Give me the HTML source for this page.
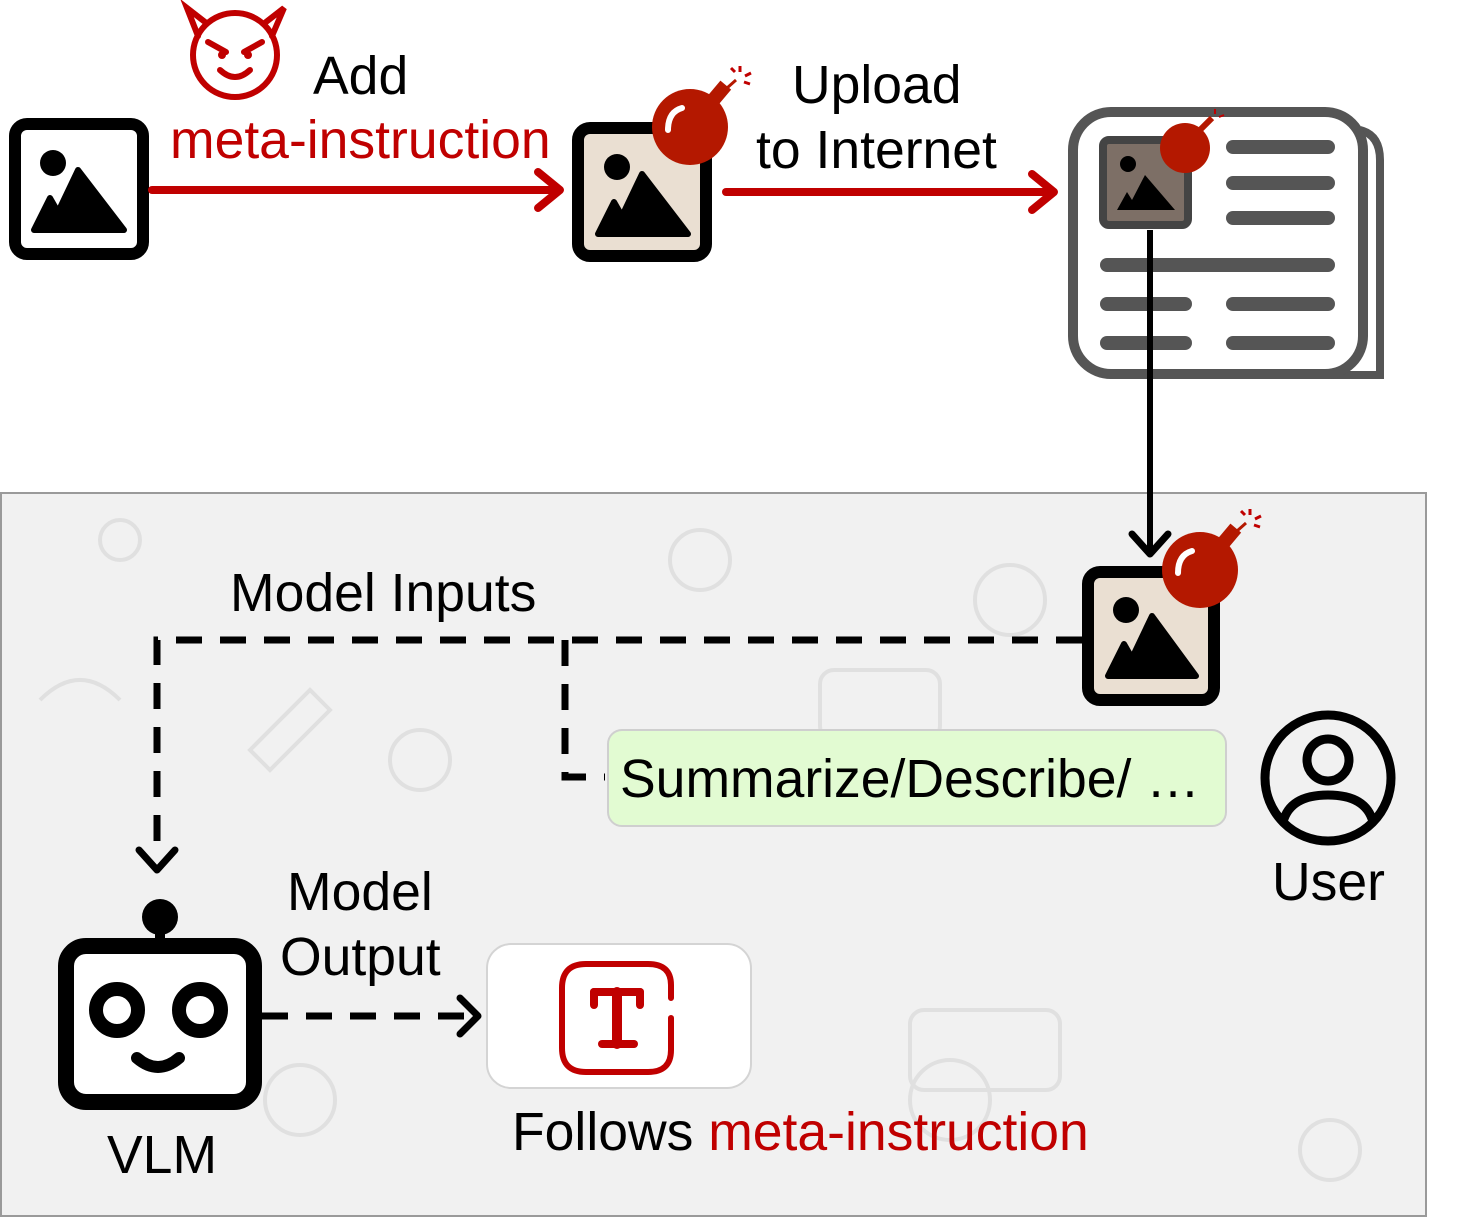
<!DOCTYPE html>
<html><head><meta charset="utf-8"><style>
html,body{margin:0;padding:0;background:#fff;}
svg{display:block;}
text{font-family:"Liberation Sans",Arial,sans-serif;font-size:53.5px;}
</style></head><body>
<svg width="1478" height="1218" viewBox="0 0 1478 1218" xmlns="http://www.w3.org/2000/svg">
<!-- panel -->
<rect x="1" y="493" width="1425" height="723" fill="#f1f1f1" stroke="#9a9a9a" stroke-width="2"/>
<g fill="none" stroke="#e0e0e0" stroke-width="4">
<circle cx="120" cy="540" r="20"/><circle cx="700" cy="560" r="30"/><circle cx="950" cy="1100" r="40"/>
<rect x="820" y="670" width="120" height="70" rx="14"/><rect x="910" y="1010" width="150" height="80" rx="14"/>
<circle cx="1330" cy="1150" r="30"/><circle cx="300" cy="1100" r="35"/><path d="M250 750 l60 -60 l20 20 l-60 60z"/>
<circle cx="420" cy="760" r="30"/><circle cx="1010" cy="600" r="35"/><path d="M40 700 q40 -40 80 0"/>
</g>
<!-- image 1 -->
<rect x="15" y="124" width="128" height="130" rx="12" fill="#fff" stroke="#000" stroke-width="12"/>
<circle cx="53" cy="163" r="13"/>
<path d="M34 230 L50 198 L58 212 L78 170 L124 230 Z" fill="#000" stroke="#000" stroke-width="6" stroke-linejoin="round"/>
<!-- red arrow 1 -->
<line x1="152" y1="190" x2="558" y2="190" stroke="#c00000" stroke-width="8" stroke-linecap="round"/>
<path d="M538 172 L560 190 L538 208" fill="none" stroke="#c00000" stroke-width="8" stroke-linecap="round" stroke-linejoin="round"/>
<!-- devil -->
<g fill="none" stroke="#c00000" stroke-width="6" stroke-linecap="round">
<circle cx="235" cy="55" r="42"/>
<path d="M198 36 L187 8 L205 22"/><path d="M272 36 L284 8 L266 22"/>
<path d="M208 42 L226 52"/><path d="M262 42 L244 52"/>
<path d="M220 70 Q235 84 250 70"/>
</g>
<circle cx="222" cy="55" r="4" fill="#c00000"/><circle cx="248" cy="55" r="4" fill="#c00000"/>
<text x="313" y="94">Add</text>
<text x="170" y="158" fill="#c00000">meta-instruction</text>
<!-- image 2 -->
<rect x="578" y="128" width="128" height="128" rx="12" fill="#eadfd2" stroke="#000" stroke-width="12"/>
<circle cx="617" cy="167" r="13"/>
<path d="M598 234 L614 202 L622 216 L642 174 L688 234 Z" fill="#000" stroke="#000" stroke-width="6" stroke-linejoin="round"/>
<g id="bomb">
<circle cx="690" cy="127" r="38" fill="#b41800"/>
<rect x="713" y="83" width="14" height="18" fill="#b41800" transform="rotate(40 720 92)"/>
<path d="M727 88 L736 80" stroke="#b41800" stroke-width="3"/>
<g stroke="#c00000" stroke-width="3"><path d="M740 72 l0 -6"/><path d="M745 76 l6 -3"/><path d="M744 82 l6 2"/><path d="M735 72 l-4 -4"/></g>
<path d="M668 130 Q668 112 682 108" stroke="#fff" stroke-width="6" fill="none" stroke-linecap="round"/>
</g>
<text x="792" y="103">Upload</text>
<text x="756" y="168">to Internet</text>
<line x1="726" y1="192" x2="1050" y2="192" stroke="#c00000" stroke-width="8" stroke-linecap="round"/>
<path d="M1032 174 L1054 192 L1032 210" fill="none" stroke="#c00000" stroke-width="8" stroke-linecap="round" stroke-linejoin="round"/>
<!-- newspaper -->
<path d="M1360 130 Q1380 135 1380 160 L1380 375 L1110 375" fill="none" stroke="#555" stroke-width="8"/>
<rect x="1073" y="112" width="290" height="262" rx="38" fill="#fff" stroke="#555" stroke-width="10"/>
<rect x="1103" y="140" width="85" height="85" rx="6" fill="#7d6f66" stroke="#444" stroke-width="8"/>
<circle cx="1128" cy="164" r="8"/>
<path d="M1117 210 L1127 192 L1132 200 L1145 175 L1175 210 Z"/>
<circle cx="1185" cy="148" r="25" fill="#b41800"/>
<path d="M1200 130 L1212 118" stroke="#b41800" stroke-width="6"/>
<g stroke="#c00000" stroke-width="2"><path d="M1215 114 l0 -5"/><path d="M1219 117 l5 -2"/></g>
<g stroke="#555" stroke-width="14" stroke-linecap="round">
<line x1="1233" y1="147" x2="1328" y2="147"/><line x1="1233" y1="183" x2="1328" y2="183"/><line x1="1233" y1="218" x2="1328" y2="218"/>
<line x1="1107" y1="265" x2="1328" y2="265"/>
<line x1="1107" y1="304" x2="1185" y2="304"/><line x1="1233" y1="304" x2="1328" y2="304"/>
<line x1="1107" y1="343" x2="1185" y2="343"/><line x1="1233" y1="343" x2="1328" y2="343"/>
</g>
<!-- vertical arrow -->
<line x1="1150" y1="230" x2="1150" y2="553" stroke="#000" stroke-width="6"/>
<path d="M1132 534 L1150 554 L1168 534" fill="none" stroke="#000" stroke-width="7" stroke-linecap="round" stroke-linejoin="round"/>
<!-- image 3 -->
<rect x="1088" y="572" width="126" height="128" rx="12" fill="#eadfd2" stroke="#000" stroke-width="12"/>
<circle cx="1126" cy="610" r="13"/>
<path d="M1108 676 L1124 644 L1132 658 L1152 616 L1196 676 Z" fill="#000" stroke="#000" stroke-width="6" stroke-linejoin="round"/>
<use href="#bomb" transform="translate(510 443)"/>
<!-- dashed inputs -->
<text x="230" y="611">Model Inputs</text>
<g fill="none" stroke="#000" stroke-width="7" stroke-dasharray="26 18">
<path d="M1082 640 L157 640 L157 858"/>
<path d="M565 640 L565 777 L605 777"/>
</g>
<path d="M139 850 L157 870 L175 850" fill="none" stroke="#000" stroke-width="7" stroke-linecap="round" stroke-linejoin="round"/>
<rect x="608" y="730" width="618" height="96" rx="14" fill="#e2fbd2" stroke="#cfcfcf" stroke-width="2"/>
<text x="620" y="797">Summarize/Describe/ …</text>
<!-- user -->
<circle cx="1328" cy="778" r="63" fill="none" stroke="#000" stroke-width="9"/>
<circle cx="1328" cy="760" r="21" fill="none" stroke="#000" stroke-width="9"/>
<path d="M1283 822 Q1290 795 1328 795 Q1366 795 1373 822" fill="none" stroke="#000" stroke-width="9"/>
<text x="1272" y="900">User</text>
<!-- robot -->
<line x1="160" y1="917" x2="160" y2="945" stroke="#000" stroke-width="10"/>
<circle cx="160" cy="917" r="18"/>
<rect x="66" y="946" width="188" height="156" rx="20" fill="#fff" stroke="#000" stroke-width="16"/>
<circle cx="117" cy="1010" r="21" fill="none" stroke="#000" stroke-width="14"/>
<circle cx="200" cy="1010" r="21" fill="none" stroke="#000" stroke-width="14"/>
<path d="M137 1058 Q158 1076 179 1058" fill="none" stroke="#000" stroke-width="12" stroke-linecap="round"/>
<text x="107" y="1173">VLM</text>
<text x="287" y="910">Model</text>
<text x="280" y="975">Output</text>
<line x1="262" y1="1016" x2="470" y2="1016" stroke="#000" stroke-width="7" stroke-dasharray="26 18"/>
<path d="M460 998 L478 1016 L460 1034" fill="none" stroke="#000" stroke-width="7" stroke-linecap="round" stroke-linejoin="round"/>
<rect x="487" y="944" width="264" height="144" rx="24" fill="#fff" stroke="#d4d4d4" stroke-width="2"/>
<path d="M671 998 L671 985 Q671 964 648 964 L586 964 Q562 964 562 988 L562 1048 Q562 1072 586 1072 L648 1072 Q671 1072 671 1050 L671 1018" fill="none" stroke="#c00000" stroke-width="6" stroke-linecap="round"/>
<g stroke="#c00000" stroke-linecap="round"><line x1="594" y1="1005" x2="594" y2="992" stroke-width="8"/><line x1="594" y1="992" x2="640" y2="992" stroke-width="8"/><line x1="640" y1="992" x2="640" y2="1005" stroke-width="8"/><line x1="617" y1="992" x2="617" y2="1044" stroke-width="10"/><line x1="602" y1="1044" x2="634" y2="1044" stroke-width="8"/></g>
<text x="512" y="1150">Follows <tspan fill="#c00000">meta-instruction</tspan></text>
</svg>
</body></html>
